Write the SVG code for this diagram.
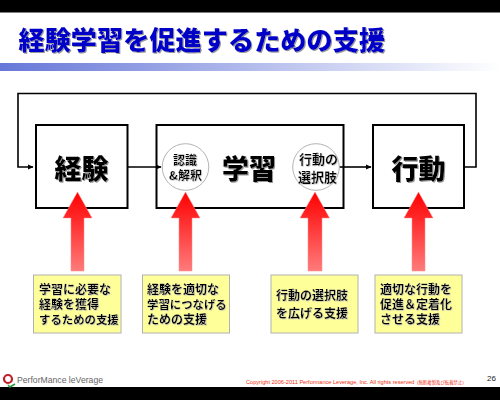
<svg xmlns="http://www.w3.org/2000/svg" width="500" height="400" viewBox="0 0 500 400">
<style>
text{font-family:"Noto Sans CJK JP","Liberation Sans",sans-serif;font-weight:900;fill:#000}
.big{font-size:27px;text-anchor:middle;filter:url(#ts)}
.sm{font-size:12px;font-weight:700;filter:url(#tl)}
.tight{font-size:11.400px}
.cir{font-size:12px;font-weight:700;text-anchor:middle;filter:url(#tl)}
.box{fill:#fff;stroke:#000;stroke-width:2}
.line{fill:none;stroke:#000;stroke-width:1.600}
.circle{fill:#fff;stroke:#b4b4b4;stroke-width:1}
.note{fill:#ffff99;stroke:#b2b2b2;stroke-width:1}
.up{fill:url(#red);stroke:#ff8c8c;stroke-width:0.500}
</style>
<defs>
<linearGradient id="bar" x1="0" x2="1" y1="0" y2="0"><stop offset="0" stop-color="#6677d8"/><stop offset="1" stop-color="#fff"/></linearGradient>
<linearGradient id="red" x1="0" x2="0" y1="0" y2="1"><stop offset="0" stop-color="#ff0000"/><stop offset="1" stop-color="#ff7b7b"/></linearGradient>
<filter id="ts" x="-10%" y="-10%" width="125%" height="125%"><feDropShadow dx="1" dy="1" stdDeviation="0.500" flood-color="#999"/></filter>
<filter id="tl" x="-10%" y="-10%" width="125%" height="125%"><feDropShadow dx="0.600" dy="0.600" stdDeviation="0.300" flood-color="#bbb"/></filter>
<marker id="ah" markerWidth="6" markerHeight="6" refX="5" refY="3" orient="auto" markerUnits="userSpaceOnUse"><path d="M0 0.500L5.500 3L0 5.500z" fill="#000"/></marker>
</defs>
<rect id="bg" width="500" height="400" fill="#fff"/>
<rect id="top-band" width="500" height="12.500" fill="#000"/>
<rect id="bottom-band" y="387" width="500" height="13" fill="#000"/>
<rect id="title-bar" y="63" width="500" height="8" fill="url(#bar)"/>
<text id="title" x="18.500" y="50" font-size="26.200" style="fill:#0000c8;filter:url(#ts)">経験学習を促進するための支援</text>
<g id="node-keiken"><rect class="box" x="36" y="125" width="91.500" height="83"/><text class="big" x="81.500" y="179">経験</text></g>
<g id="node-gakushu"><rect class="box" x="156.500" y="125" width="187" height="83"/><text class="big" x="249" y="179">学習</text></g>
<g id="node-kodo"><rect class="box" x="373" y="125" width="91" height="83"/><text class="big" x="418.500" y="179">行動</text></g>
<g id="connectors">
<path class="line" d="M465 167H476V93.500H18V167H33" marker-end="url(#ah)"/>
<path class="line" d="M128 167H161" marker-end="url(#ah)"/>
<path class="line" d="M339 167H371" marker-end="url(#ah)"/>
</g>
<g id="circle-ninshiki"><circle class="circle" cx="185.500" cy="167" r="23.300"/><text class="cir" x="185" y="164.500">認識</text><text class="cir" x="185.500" y="180">&amp;解釈</text></g>
<g id="circle-sentaku"><circle class="circle" cx="316" cy="167" r="23.300"/><text class="cir" x="318.500" y="164" style="font-size:13px">行動の</text><text class="cir" x="317.500" y="182" style="font-size:13px">選択肢</text></g>
<g id="arrow-1"><path class="up" d="M77.500 192L92 218H84V271H71V218H63z"/></g>
<g id="arrow-2"><path class="up" d="M185.500 192L200 218H192V271H179V218H171z"/></g>
<g id="arrow-3"><path class="up" d="M315 192L329.500 218H322V271H308V218H300z"/></g>
<g id="arrow-4"><path class="up" d="M418.500 192L433 218H425V271H412V218H404z"/></g>
<g id="note-1"><rect class="note" x="33.500" y="275" width="87.500" height="58"/><text class="sm" x="39" y="294">学習に必要な</text><text class="sm" x="39" y="309">経験を獲得</text><text class="sm tight" x="39" y="324">するための支援</text></g>
<g id="note-2"><rect class="note" x="142.500" y="275" width="87" height="58"/><text class="sm" x="147" y="294">経験を適切な</text><text class="sm tight" x="147" y="309">学習につなげる</text><text class="sm" x="147" y="324">ための支援</text></g>
<g id="note-3"><rect class="note" x="271" y="275" width="87" height="58"/><text class="sm" x="276" y="300">行動の選択肢</text><text class="sm" x="276" y="318">を広げる支援</text></g>
<g id="note-4"><rect class="note" x="375" y="275" width="87" height="58"/><text class="sm" x="380" y="294">適切な行動を</text><text class="sm" x="380" y="309">促進＆定着化</text><text class="sm" x="380" y="324">させる支援</text></g>
<g id="logo">
<circle cx="8" cy="379" r="4" fill="none" stroke="#c0202a" stroke-width="2.200"/>
<path d="M2 376L8 386L5 380z" fill="#c0202a"/>
<path d="M8 385L10 387L15 384" fill="none" stroke="#2a9a3a" stroke-width="1.500"/>
<text x="17" y="383" font-size="9" textLength="86" lengthAdjust="spacingAndGlyphs" style="font-family:'Liberation Sans',sans-serif;font-weight:400;fill:#666">PerforMance leVerage</text>
</g>
<text id="copyright" x="246" y="384" font-size="5.600" style="font-family:'Liberation Sans','Noto Sans CJK JP',sans-serif;font-weight:400;fill:#f03010"><tspan>Copyright 2006-2011 Performance Leverage, Inc. All rights reserved </tspan><tspan x="417" font-size="4.400">(無断複製及び転載禁止)</tspan></text>
<text id="page" x="487" y="381" font-size="8" style="font-family:'Liberation Sans',sans-serif;font-weight:400;fill:#222">26</text>
</svg>
